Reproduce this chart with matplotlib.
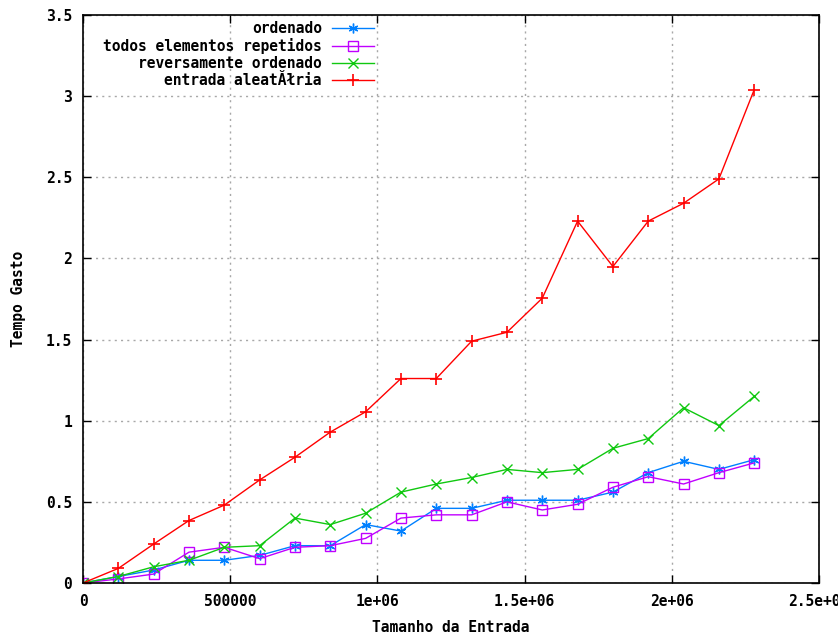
import matplotlib
matplotlib.use("Agg")
import matplotlib.pyplot as plt

# tamanho da entrada (passo de 120000)
tamanho = [0, 120000, 240000, 360000, 480000, 600000, 720000, 840000, 960000, 1080000,
           1200000, 1320000, 1440000, 1560000, 1680000, 1800000, 1920000, 2040000, 2160000, 2280000]

ordenado = [0, 0.04, 0.08, 0.14, 0.14, 0.17, 0.23, 0.23, 0.36, 0.32,
            0.46, 0.46, 0.51, 0.51, 0.51, 0.56, 0.68, 0.75, 0.70, 0.76]
repetidos = [0, 0.025, 0.055, 0.19, 0.22, 0.15, 0.22, 0.23, 0.275, 0.40,
             0.42, 0.42, 0.50, 0.45, 0.485, 0.59, 0.655, 0.61, 0.68, 0.74]
reverso = [0, 0.04, 0.10, 0.14, 0.22, 0.23, 0.40, 0.36, 0.43, 0.56,
           0.61, 0.65, 0.70, 0.68, 0.70, 0.83, 0.89, 1.08, 0.97, 1.15]
aleatoria = [0, 0.09, 0.24, 0.385, 0.48, 0.635, 0.775, 0.93, 1.055, 1.26,
             1.26, 1.49, 1.545, 1.755, 2.23, 1.95, 2.23, 2.34, 2.49, 3.04]

x_ticks = [0, 500000, 1000000, 1500000, 2000000, 2500000]
x_labels = ['0', '500000', '1e+06', '1.5e+06', '2e+06', '2.5e+06']
y_ticks = [0, 0.5, 1, 1.5, 2, 2.5, 3, 3.5]
y_labels = ['0', '0.5', '1', '1.5', '2', '2.5', '3', '3.5']

plt.rcParams['font.family'] = ['DejaVu Sans Mono']
plt.rcParams['font.weight'] = 'bold'
fs = 10.5

fig = plt.figure(figsize=(8.38, 6.35), dpi=100)
ax = fig.add_axes([83 / 838, 52 / 635, 736 / 838, 568 / 635])

ax.plot(tamanho, ordenado, color='#0080ff', lw=1, marker=(6, 2, 0), ms=7, mew=1,
        label='ordenado')
ax.plot(tamanho, repetidos, color='#c000ff', lw=1, marker='s', ms=6.5, mew=1,
        mfc='none', label='todos elementos repetidos')
ax.plot(tamanho, reverso, color='#10c810', lw=1, marker='x', ms=6.5, mew=1,
        label='reversamente ordenado')
ax.plot(tamanho, aleatoria, color='#ff0000', lw=1, marker='+', ms=8, mew=1.2,
        label='entrada aleatĂłria')

ax.set_xlim(0, 2500000)
ax.set_ylim(0, 3.5)
ax.set_xticks(x_ticks)
ax.set_xticklabels(x_labels, fontsize=fs, fontweight='bold')
ax.set_yticks(y_ticks)
ax.set_yticklabels(y_labels, fontsize=fs, fontweight='bold')
ax.tick_params(direction='in', top=True, right=True, length=6, width=1, pad=8)

ax.grid(True, color='#a8a8a8', linestyle=(0, (1.5, 3)), linewidth=1)
for s in ax.spines.values():
    s.set_linewidth(1.2)

ax.set_xlabel('Tamanho da Entrada', fontsize=fs, fontweight='bold', labelpad=8)
ax.set_ylabel('Tempo Gasto', fontsize=fs, fontweight='bold', labelpad=14)

leg = ax.legend(loc='upper right', bbox_to_anchor=(0.40, 0.995), frameon=False,
                markerfirst=False, prop={'size': fs, 'weight': 'bold'},
                handlelength=2.9, handletextpad=0.7, labelspacing=0.15,
                borderpad=0.2, borderaxespad=0)

fig.savefig('out.png', dpi=100)
